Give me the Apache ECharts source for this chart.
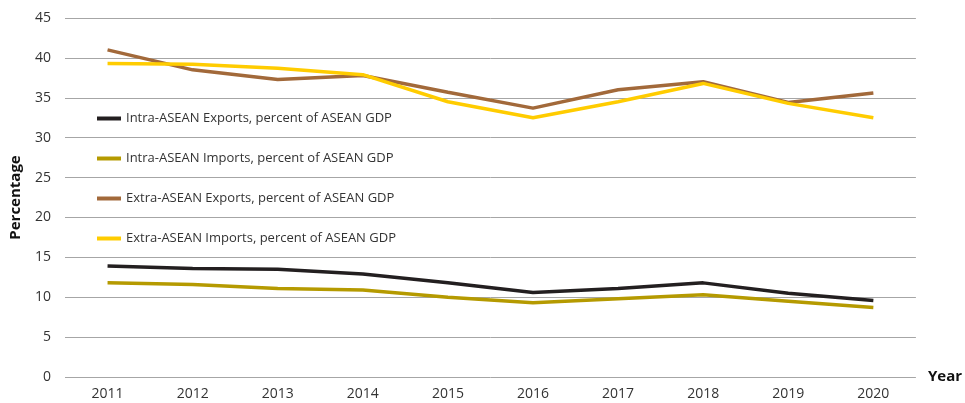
<!DOCTYPE html>
<html>
<head>
<meta charset="utf-8">
<script src="https://cdn.jsdelivr.net/npm/echarts@6/dist/echarts.min.js"></script>
<style>
  html, body { margin: 0; padding: 0; background: #fff; }
  #chart { width: 965px; height: 403px; }
</style>
</head>
<body>
<div id="chart"></div>
<script>
const years = ["2011", "2012", "2013", "2014", "2015", "2016", "2017", "2018", "2019", "2020"];
const intra_exports = [13.9, 13.6, 13.5, 12.9, 11.8, 10.6, 11.1, 11.8, 10.5, 9.6];
const intra_imports = [11.8, 11.6, 11.1, 10.9, 10.0, 9.3, 9.8, 10.3, 9.5, 8.7];
const extra_exports = [41.0, 38.5, 37.3, 37.8, 35.7, 33.7, 36.0, 37.0, 34.4, 35.6];
const extra_imports = [39.3, 39.2, 38.7, 37.9, 34.5, 32.5, 34.5, 36.8, 34.3, 32.5];

const chart = echarts.init(document.getElementById("chart"));
const font = "'Open Sans', Lato, sans-serif";

function line(name, data, color) {
  return {
    name: name,
    type: "line",
    data: data,
    showSymbol: false,
    lineStyle: { color: color, width: 3.5 },
    itemStyle: { color: color },
  };
}

chart.setOption({
  backgroundColor: "#fff",
  animation: false,
  textStyle: { fontFamily: font },
  grid: { left: 65, right: 48, top: 18, bottom: 26 },
  legend: {
    orient: "vertical",
    left: 92,
    top: 107,
    itemGap: 27,
    itemWidth: 24,
    itemHeight: 4,
    icon: "rect",
    textStyle: { color: "#333", fontSize: 13, fontFamily: font },
    selectedMode: false,
  },
  xAxis: {
    type: "category",
    data: years,
    name: "Year",
    nameLocation: "end",
    nameGap: 12,
    nameTextStyle: { color: "#111", fontSize: 15, fontWeight: "bold", verticalAlign: "middle" },
    axisLine: { show: false },
    axisTick: { show: false },
    axisLabel: { color: "#333", fontSize: 14, margin: 10 },
  },
  yAxis: {
    type: "value",
    min: 0,
    max: 45,
    interval: 5,
    name: "Percentage",
    nameLocation: "middle",
    nameGap: 42,
    nameTextStyle: { color: "#111", fontSize: 15, fontWeight: "bold" },
    axisLine: { show: false },
    axisTick: { show: false },
    axisLabel: { color: "#333", fontSize: 14, margin: 14 },
    splitLine: { lineStyle: { color: "#a6a6a6", width: 1 } },
  },
  series: [
    line("Intra-ASEAN Exports, percent of ASEAN GDP", intra_exports, "#231f20"),
    line("Intra-ASEAN Imports, percent of ASEAN GDP", intra_imports, "#b59a00"),
    line("Extra-ASEAN Exports, percent of ASEAN GDP", extra_exports, "#a2693a"),
    line("Extra-ASEAN Imports, percent of ASEAN GDP", extra_imports, "#ffcc00"),
  ],
});
</script>
</body>
</html>
